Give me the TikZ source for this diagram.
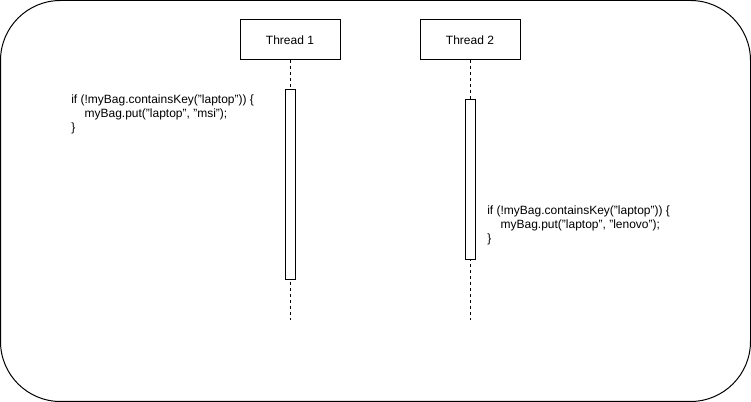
\documentclass[tikz,border=0pt]{standalone}
\usepackage{fontspec}
\setmainfont{Liberation Sans}
\begin{document}
\begin{tikzpicture}[x=0.75pt,y=-0.75pt,
  thread/.style={draw, line width=0.75pt, minimum width=75pt, minimum height=30pt, inner sep=0pt, font=\fontsize{9}{11}\selectfont},
  act/.style={draw, fill=white, line width=0.75pt, minimum width=7.5pt, inner sep=0pt},
  life/.style={line width=0.75pt, dash pattern=on 2.25pt off 2.25pt},
  code/.style={anchor=north west, inner sep=0pt, align=left, font=\fontsize{9}{10.5}\selectfont}]
\useasboundingbox (0,0) rectangle (751,402);
\draw[line width=0.75pt, rounded corners=45pt] (0.5,0.5) rectangle (750.5,401.5);
\node[thread] (t1) at (290,40) {Thread 1};
\node[thread] (t2) at (470,40) {Thread 2};
\coordinate (end1) at (290,320);
\coordinate (end2) at (470,320);
\draw[life] (t1.south) -- (end1);
\draw[life] (t2.south) -- (end2);
\node[act, minimum height=142.5pt] (act1) at (290,185) {};
\node[act, minimum height=120pt] (act2) at (470,180) {};
\node[code] (code1) at (71,95) {if (!myBag.containsKey("laptop")) \{\\\hspace*{10pt}myBag.put("laptop", "msi");\\\}};
\node[code] (code2) at (487,206) {if (!myBag.containsKey("laptop")) \{\\\hspace*{10pt}myBag.put("laptop", "lenovo");\\\}};
\end{tikzpicture}
\end{document}
